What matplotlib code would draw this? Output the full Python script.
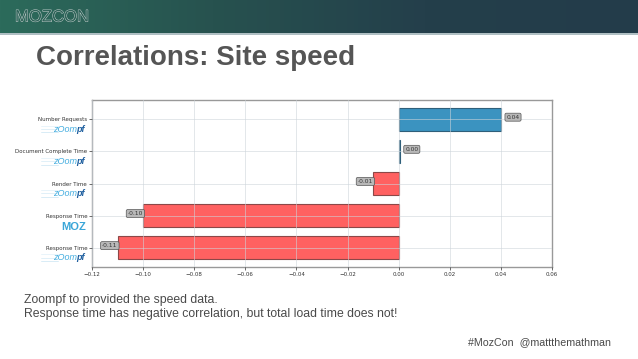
import matplotlib
matplotlib.use("Agg")
import matplotlib.pyplot as plt
import matplotlib.patheffects as pe
from matplotlib.colors import LinearSegmentedColormap
import numpy as np

# data, bottom to top
categories = ["Response Time", "Response Time", "Render Time", "Document Complete Time", "Number Requests"]
sources = ["zoompf", "moz", "zoompf", "zoompf", "zoompf"]
values = [-0.11, -0.10, -0.01, 0.0004, 0.04]
value_labels = ["-0.11", "-0.10", "-0.01", "0.00", "0.04"]
xticks = [-0.12, -0.10, -0.08, -0.06, -0.04, -0.02, 0.00, 0.02, 0.04, 0.06]

W, H = 638, 359
fig = plt.figure(figsize=(W / 100, H / 100), dpi=100)
fig.patch.set_facecolor("white")

# header band
band = fig.add_axes([0, 1 - 33 / H, 1, 33 / H])
cmap = LinearSegmentedColormap.from_list("band", ["#2c6b5b", "#27524f", "#243f4b", "#233c4a"])
band.imshow(np.linspace(0, 1, 256).reshape(1, -1), aspect="auto", cmap=cmap, extent=[0, 1, 0, 1])
band.set_xlim(0, 1)
band.set_ylim(0, 1)
band.axis("off")
fig.add_artist(plt.Line2D([0, 1], [1 - 33.5 / H] * 2, color="#9fb3b8", lw=1.2))

fig.text(15 / W, 1 - 17 / H, "MOZCON", fontsize=12, family="Liberation Sans", color="#2e6258",
         va="center", ha="left",
         path_effects=[pe.withStroke(linewidth=0.7, foreground="#c4cfcd")])

fig.text(36 / W, 1 - 58 / H, "Correlations: Site speed", fontsize=20, fontweight="bold",
         family="Liberation Sans", color="#555555", va="center", ha="left")

fig.text(24 / W, 1 - 300 / H, "Zoompf to provided the speed data.", fontsize=8.8,
         family="Liberation Sans", color="#4a4a4a", va="center", ha="left")
fig.text(24 / W, 1 - 314 / H, "Response time has negative correlation, but total load time does not!",
         fontsize=8.8, family="Liberation Sans", color="#4a4a4a", va="center", ha="left")
fig.text(611 / W, 1 - 342 / H, "#MozCon  @mattthemathman", fontsize=7.7,
         family="Liberation Sans", color="#4a4a4a", va="center", ha="right")

# chart
ax = fig.add_axes([92 / W, 1 - 267 / H, 460 / W, 167 / H])
y = np.arange(len(categories))
colors = ["#3b93c0" if v > 0 else "#ff6161" for v in values]
edges = ["#2f5f7a" if v > 0 else "#8c4848" for v in values]
ax.barh(y, values, height=0.7, color=colors, edgecolor=edges, linewidth=0.8, zorder=2)

for yi, v, lab in zip(y, values, value_labels):
    if v >= 0:
        ax.annotate(lab, xy=(v, yi), xytext=(4, 1.5), textcoords="offset points",
                    ha="left", va="center", fontsize=4.3, color="#333333",
                    bbox=dict(boxstyle="round,pad=0.25", fc="#b8b8b8", ec="#555555", lw=0.5), zorder=4)
    else:
        ax.annotate(lab, xy=(v, yi), xytext=(0, 1.5), textcoords="offset points",
                    ha="right", va="center", fontsize=4.3, color="#333333",
                    bbox=dict(boxstyle="round,pad=0.25", fc="#b8b8b8", ec="#555555", lw=0.5), zorder=4)

ax.set_xlim(-0.12, 0.06)
ax.set_ylim(-0.6, 4.6)
ax.set_xticks(xticks)
ax.set_xticklabels([f"{t:.2f}".replace("-", "\u2212") for t in xticks])
ax.set_yticks(y)
ax.set_yticklabels(categories)
ax.tick_params(axis="both", labelsize=4, colors="#333333", length=2, width=0.5, pad=1.5)
ax.grid(True, color="#cdd4da", lw=0.5, alpha=0.8, zorder=3)
ax.set_axisbelow(False)
for s in ax.spines.values():
    s.set_color("#999999")
    s.set_linewidth(1.0)

# source logos under the tick labels
tr = ax.get_yaxis_transform()
for yi, src in zip(y, sources):
    if src == "moz":
        ax.text(-0.012, yi - 0.34, "MOZ", transform=tr, ha="right", va="center", fontsize=8,
                fontweight="bold", family="Liberation Sans", color="#3aa6d8")
    else:
        ax.annotate("pf", xy=(-0.015, yi - 0.31), xycoords=tr, ha="right", va="center",
                    fontsize=6.5, fontweight="bold", style="italic", family="Liberation Sans",
                    color="#1f5f9f", annotation_clip=False)
        ax.annotate("zOom", xy=(-0.015, yi - 0.31), xycoords=tr, xytext=(-6, 0),
                    textcoords="offset points", ha="right", va="center", fontsize=6.5,
                    style="italic", family="Liberation Sans", color="#45aee0", annotation_clip=False)
        for k, dy in enumerate([-0.1, 0.0, 0.1]):
            ax.plot([-0.11, -0.075], [yi - 0.31 + dy] * 2, transform=tr, color="#9fd0ea",
                    lw=0.4, alpha=0.7 - 0.15 * k, clip_on=False)

fig.savefig("out.png", dpi=100, facecolor="white")
